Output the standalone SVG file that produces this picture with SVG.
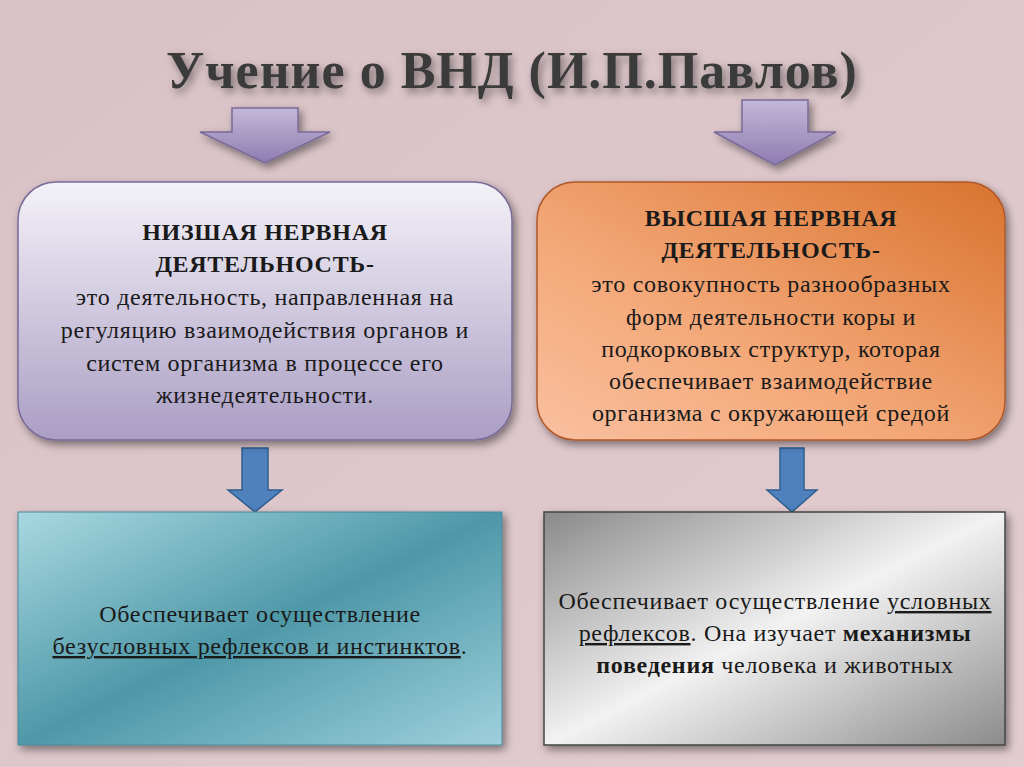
<svg xmlns="http://www.w3.org/2000/svg" width="1024" height="767" viewBox="0 0 1024 767">
<defs>
<linearGradient id="bg" x1="0" y1="0" x2="1" y2="1"><stop offset="0" stop-color="#d9c2c6"/><stop offset="1" stop-color="#e2ccd0"/></linearGradient>
<linearGradient id="g1" x1="0" y1="0" x2="0" y2="1"><stop offset="0" stop-color="#f4f2f8"/><stop offset="1" stop-color="#aa9ec4"/></linearGradient>
<linearGradient id="g2" x1="1" y1="0" x2="0" y2="1"><stop offset="0" stop-color="#d8732f"/><stop offset="0.6" stop-color="#f4a878"/><stop offset="1" stop-color="#f9c0a0"/></linearGradient>
<linearGradient id="g3" x1="0" y1="0" x2="1" y2="1"><stop offset="0" stop-color="#a8d8e0"/><stop offset="0.5" stop-color="#4e98a8"/><stop offset="1" stop-color="#9ed0dc"/></linearGradient>
<linearGradient id="g4" x1="0" y1="0" x2="1" y2="1"><stop offset="0" stop-color="#8a8a8a"/><stop offset="0.5" stop-color="#f2f2f2"/><stop offset="1" stop-color="#8c8c8c"/></linearGradient>
<linearGradient id="ga" x1="0" y1="0" x2="0" y2="1"><stop offset="0" stop-color="#c4b8d8"/><stop offset="1" stop-color="#8e7cb0"/></linearGradient>
<filter id="sh" x="-10%" y="-10%" width="130%" height="130%"><feDropShadow dx="3" dy="4" stdDeviation="4" flood-opacity="0.45"/></filter>
</defs>
<style>
.t{font-family:"Liberation Serif",serif;font-size:24px;letter-spacing:0.7px;fill:#1a1a1a;text-anchor:middle}
.b{font-weight:bold}
.box{filter:url(#sh)}
</style>
<rect width="1024" height="767" fill="url(#bg)"/>
<text x="512" y="88" font-family="Liberation Serif,serif" font-size="52" font-weight="bold" letter-spacing="1" fill="#3a3a3a" text-anchor="middle" filter="url(#sh)">Учение о ВНД (И.П.Павлов)</text>
<g id="connectors">
<polygon points="232,108 298,108 298,132 330,132 265,163 200,132 232,132" fill="url(#ga)" stroke="#7a6a98" stroke-width="1.5" filter="url(#sh)"/>
<polygon points="742,100 808,100 808,132 836,132 775,165 714,132 742,132" fill="url(#ga)" stroke="#7a6a98" stroke-width="1.5" filter="url(#sh)"/>
<polygon points="242,448 268,448 268,490 282,490 255,512 228,490 242,490" fill="#4f81bd" stroke="#2f5d8e" stroke-width="1.5"/>
<polygon points="780,448 804,448 804,490 817,490 792,512 767,490 780,490" fill="#4f81bd" stroke="#2f5d8e" stroke-width="1.5"/>
</g>
<g id="n1"><rect class="box" x="18" y="182" width="494" height="258" rx="38" fill="url(#g1)" stroke="#7a6a98" stroke-width="1.5"/>
<text class="t b" x="265" y="240">НИЗШАЯ НЕРВНАЯ</text>
<text class="t b" x="265" y="272">ДЕЯТЕЛЬНОСТЬ-</text>
<text class="t" x="265" y="305">это деятельность, направленная на</text>
<text class="t" x="265" y="338">регуляцию взаимодействия органов и</text>
<text class="t" x="265" y="371">систем организма в процессе его</text>
<text class="t" x="265" y="403">жизнедеятельности.</text></g>
<g id="n2"><rect class="box" x="537" y="182" width="468" height="258" rx="38" fill="url(#g2)" stroke="#b0582a" stroke-width="1.5"/>
<text class="t b" x="771" y="226">ВЫСШАЯ НЕРВНАЯ</text>
<text class="t b" x="771" y="258">ДЕЯТЕЛЬНОСТЬ-</text>
<text class="t" x="771" y="292">это совокупность разнообразных</text>
<text class="t" x="771" y="325">форм  деятельности коры и</text>
<text class="t" x="771" y="357">подкорковых структур, которая</text>
<text class="t" x="771" y="389">обеспечивает взаимодействие</text>
<text class="t" x="771" y="421">организма с окружающей средой</text></g>
<g id="n3"><rect class="box" x="18" y="512" width="484" height="233" fill="url(#g3)" stroke="#4a8898" stroke-width="1"/>
<text class="t" x="260" y="622">Обеспечивает осуществление</text>
<text class="t" x="260" y="654"><tspan text-decoration="underline">безусловных рефлексов и инстинктов</tspan>.</text></g>
<g id="n4"><rect class="box" x="544" y="512" width="461" height="233" fill="url(#g4)" stroke="#444" stroke-width="1.5"/>
<text class="t" x="775" y="609">Обеспечивает осуществление <tspan text-decoration="underline">условных</tspan></text>
<text class="t" x="775" y="641"><tspan text-decoration="underline">рефлексов</tspan>. Она изучает <tspan font-weight="bold">механизмы</tspan></text>
<text class="t" x="775" y="673"><tspan font-weight="bold">поведения</tspan> человека и животных</text></g>
</svg>
